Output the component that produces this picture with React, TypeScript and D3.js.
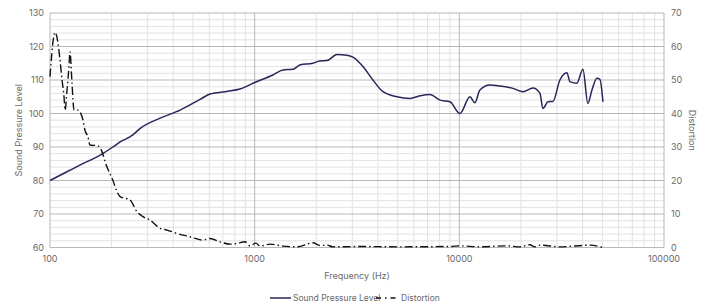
import React from 'react';
import * as d3 from 'd3';

// Sound pressure level (dB) against frequency (Hz)
const splFreq = [100, 121, 140, 176, 203, 220, 254, 275, 345, 432, 540, 605, 732, 848, 1015, 1228, 1375, 1538, 1664, 1927, 2084, 2255, 2524, 2825, 3020, 3381, 3784, 4236, 4955, 5738, 6424, 7183, 8043, 8995, 10070, 11270, 11920, 12600, 14100, 15780, 18270, 20460, 22900, 24770, 25610, 27100, 28660, 30990, 33560, 34700, 37500, 40160, 42470, 44460, 47000, 48620, 50320];
const splValues = [80, 82.6, 84.6, 87.6, 90, 91.5, 93.6, 95.5, 98.6, 101, 104.2, 105.8, 106.6, 107.3, 109.4, 111.5, 113, 113.2, 114.5, 115, 115.7, 115.8, 117.6, 117.4, 116.8, 114, 110, 106.5, 105, 104.5, 105.3, 105.7, 104, 103.5, 100, 105, 103.2, 107, 108.5, 108.2, 107.5, 106.5, 107.6, 106, 101.5, 103.5, 103.6, 110, 112.2, 109.5, 109, 113.2, 103, 107, 110.5, 110.2, 103.5];

// Distortion (%) against frequency (Hz)
const distFreq = [100, 105.8, 109.4, 111.9, 114.5, 117.1, 118.4, 121.1, 123.8, 125.2, 128.1, 131, 137, 140, 145, 148.2, 153.3, 156.7, 169.7, 176, 189.9, 203, 212.5, 220, 245.9, 266, 284.6, 308, 345, 373, 417, 483, 559, 605, 677, 757, 819, 897, 948, 1015, 1062, 1188, 1375, 1609, 1927, 2084, 2255, 2413, 3268, 5127, 8995, 10070, 12600, 17090, 19770, 22130, 23400, 24770, 30990, 43460, 50320];
const distValues = [51, 64.2, 61, 56, 50, 45, 41, 47, 54, 58.4, 49, 41, 41, 40.5, 38, 35, 33, 30.6, 30.4, 29.7, 24, 20, 16.7, 15.2, 14.2, 10.7, 9.2, 8.2, 5.7, 5.2, 4.2, 3.2, 2.2, 2.7, 1.7, 1, 1.2, 1.7, 0.5, 1.3, 0.4, 1, 0.4, 0.2, 1.4, 0.6, 0.7, 0.2, 0.3, 0.2, 0.3, 0.5, 0.2, 0.5, 0.2, 0.8, 0.2, 0.7, 0.2, 0.7, 0];

const splTicks = [60, 70, 80, 90, 100, 110, 120, 130];
const distTicks = [0, 10, 20, 30, 40, 50, 60, 70];
const freqTicks = [100, 1000, 10000, 100000];

const W = 708;
const H = 306;
const left = 50;
const right = 664;
const top = 13;
const bottom = 247.5;
const font = 'Inter, "Noto Sans", sans-serif';

export default function App() {
  const x = d3.scaleLog().domain([100, 100000]).range([left, right]);
  const y = d3.scaleLinear().domain([60, 130]).range([bottom, top]);
  const y2 = d3.scaleLinear().domain([0, 70]).range([bottom, top]);

  const minorFreq: number[] = [];
  [100, 1000, 10000].forEach((d) => {
    for (let k = 2; k <= 9; k++) minorFreq.push(d * k);
  });
  const minorY = d3.range(60, 131, 2).filter((v) => v % 10 !== 0);

  const splLine = d3.line<number>()
    .x((d, i) => x(splFreq[i]))
    .y((d) => y(d))
    .curve(d3.curveMonotoneX);
  const distLine = d3.line<number>()
    .x((d, i) => x(distFreq[i]))
    .y((d) => y2(d))
    .curve(d3.curveMonotoneX);

  return (
    <svg width={W} height={H} style={{ position: 'absolute', left: 0, top: 0 }} fontFamily={font}>
      <rect width={W} height={H} fill="#fff" />
      {minorY.map((v) => (
        <line key={'hy' + v} x1={left} x2={right} y1={y(v)} y2={y(v)} stroke="#e2e2e2" strokeWidth={1} />
      ))}
      {minorFreq.map((f) => (
        <line key={'vx' + f} x1={x(f)} x2={x(f)} y1={top} y2={bottom} stroke="#e2e2e2" strokeWidth={1} />
      ))}
      {splTicks.map((v) => (
        <line key={'My' + v} x1={left} x2={right} y1={y(v)} y2={y(v)} stroke="#b8b8b8" strokeWidth={1} />
      ))}
      {freqTicks.map((f) => (
        <line key={'Mx' + f} x1={x(f)} x2={x(f)} y1={top} y2={bottom} stroke="#b8b8b8" strokeWidth={1} />
      ))}

      <path d={splLine(splValues) || ''} fill="none" stroke="#27265a" strokeWidth={1.5} />
      <path d={distLine(distValues) || ''} fill="none" stroke="#111" strokeWidth={1.4} strokeDasharray="8,3,1.5,3" />

      {splTicks.map((v) => (
        <text key={'ly' + v} x={left - 6} y={y(v)} dy="0.35em" textAnchor="end" fontSize={9} fill="#6a6a6a">{v}</text>
      ))}
      {distTicks.map((v) => (
        <text key={'ry' + v} x={right + 7} y={y2(v)} dy="0.35em" textAnchor="start" fontSize={9} fill="#6a6a6a">{v}</text>
      ))}
      {freqTicks.map((f) => (
        <text key={'lx' + f} x={x(f)} y={bottom + 14} textAnchor="middle" fontSize={9} fill="#6a6a6a">{f}</text>
      ))}

      <text transform={`translate(22,${(top + bottom) / 2}) rotate(-90)`} textAnchor="middle" fontSize={9} fill="#6a6a6a">Sound Pressure Level</text>
      <text transform={`translate(689,${(top + bottom) / 2}) rotate(90)`} textAnchor="middle" fontSize={9} fill="#6a6a6a">Distortion</text>
      <text x={(left + right) / 2} y={bottom + 31} textAnchor="middle" fontSize={9} fill="#6a6a6a">Frequency (Hz)</text>

      <line x1={270} x2={291} y1={298} y2={298} stroke="#27265a" strokeWidth={1.5} />
      <text x={293} y={298} dy="0.35em" fontSize={8.5} fill="#6a6a6a">Sound Pressure Level</text>
      <line x1={376} x2={399} y1={298} y2={298} stroke="#111" strokeWidth={1.5} strokeDasharray="5,4,1.5,4" />
      <text x={401} y={298} dy="0.35em" fontSize={8.5} fill="#6a6a6a">Distortion</text>
    </svg>
  );
}
